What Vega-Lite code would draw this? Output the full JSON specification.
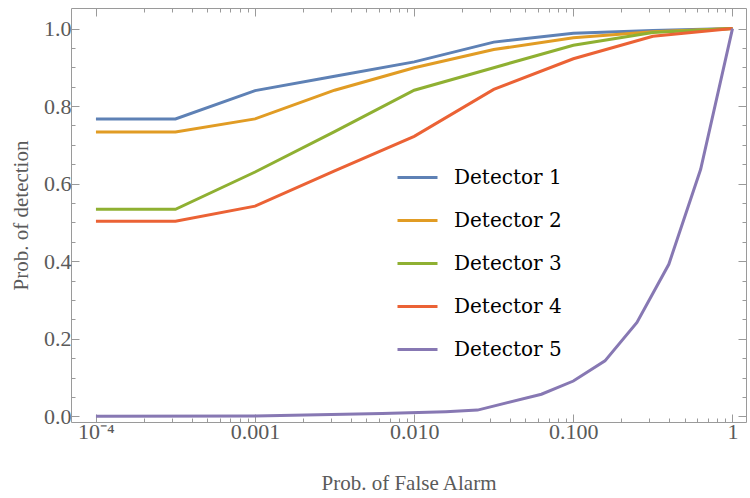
{
  "$schema": "https://vega.github.io/schema/vega-lite/v6.json",
  "autosize": "none",
  "padding": {"left": 71, "top": 8, "right": 4, "bottom": 76},
  "width": 675,
  "height": 414,
  "background": "white",
  "config": {
    "font": "Liberation Serif",
    "view": {"stroke": "#9a9a9a", "strokeWidth": 1},
    "axis": {
      "domain": false,
      "grid": false,
      "tickColor": "#9a9a9a",
      "tickWidth": 1,
      "labelFont": "Liberation Serif",
      "labelFontSize": 22,
      "labelColor": "#5a5a5a",
      "titleFont": "Liberation Serif",
      "titleFontSize": 21,
      "titleFontWeight": "normal",
      "titleColor": "#5a5a5a"
    },
    "legend": {
      "labelFont": "DejaVu Serif",
      "labelFontSize": 20,
      "labelFontWeight": "normal",
      "labelColor": "black",
      "labelLimit": 300
    }
  },
  "data": {
    "values": [
      {"detector": "Detector 1", "pfa": 0.0001, "pd": 0.767},
      {"detector": "Detector 1", "pfa": 0.000316, "pd": 0.767},
      {"detector": "Detector 1", "pfa": 0.001, "pd": 0.840},
      {"detector": "Detector 1", "pfa": 0.00316, "pd": 0.877},
      {"detector": "Detector 1", "pfa": 0.01, "pd": 0.914},
      {"detector": "Detector 1", "pfa": 0.0316, "pd": 0.965},
      {"detector": "Detector 1", "pfa": 0.1, "pd": 0.988},
      {"detector": "Detector 1", "pfa": 0.316, "pd": 0.995},
      {"detector": "Detector 1", "pfa": 1, "pd": 1.0},
      {"detector": "Detector 2", "pfa": 0.0001, "pd": 0.733},
      {"detector": "Detector 2", "pfa": 0.000316, "pd": 0.733},
      {"detector": "Detector 2", "pfa": 0.001, "pd": 0.767},
      {"detector": "Detector 2", "pfa": 0.00316, "pd": 0.841},
      {"detector": "Detector 2", "pfa": 0.01, "pd": 0.899},
      {"detector": "Detector 2", "pfa": 0.0316, "pd": 0.946},
      {"detector": "Detector 2", "pfa": 0.1, "pd": 0.976},
      {"detector": "Detector 2", "pfa": 0.316, "pd": 0.992},
      {"detector": "Detector 2", "pfa": 1, "pd": 1.0},
      {"detector": "Detector 3", "pfa": 0.0001, "pd": 0.534},
      {"detector": "Detector 3", "pfa": 0.000316, "pd": 0.534},
      {"detector": "Detector 3", "pfa": 0.001, "pd": 0.630},
      {"detector": "Detector 3", "pfa": 0.00316, "pd": 0.734},
      {"detector": "Detector 3", "pfa": 0.01, "pd": 0.841},
      {"detector": "Detector 3", "pfa": 0.0316, "pd": 0.899},
      {"detector": "Detector 3", "pfa": 0.1, "pd": 0.957},
      {"detector": "Detector 3", "pfa": 0.316, "pd": 0.990},
      {"detector": "Detector 3", "pfa": 1, "pd": 1.0},
      {"detector": "Detector 4", "pfa": 0.0001, "pd": 0.503},
      {"detector": "Detector 4", "pfa": 0.000316, "pd": 0.503},
      {"detector": "Detector 4", "pfa": 0.001, "pd": 0.542},
      {"detector": "Detector 4", "pfa": 0.00316, "pd": 0.633},
      {"detector": "Detector 4", "pfa": 0.01, "pd": 0.722},
      {"detector": "Detector 4", "pfa": 0.0316, "pd": 0.843},
      {"detector": "Detector 4", "pfa": 0.1, "pd": 0.922},
      {"detector": "Detector 4", "pfa": 0.316, "pd": 0.980},
      {"detector": "Detector 4", "pfa": 1, "pd": 1.0},
      {"detector": "Detector 5", "pfa": 0.0001, "pd": 0.0001},
      {"detector": "Detector 5", "pfa": 0.001, "pd": 0.001},
      {"detector": "Detector 5", "pfa": 0.0063, "pd": 0.007},
      {"detector": "Detector 5", "pfa": 0.0158, "pd": 0.012},
      {"detector": "Detector 5", "pfa": 0.025, "pd": 0.016},
      {"detector": "Detector 5", "pfa": 0.063, "pd": 0.057},
      {"detector": "Detector 5", "pfa": 0.1, "pd": 0.091},
      {"detector": "Detector 5", "pfa": 0.158, "pd": 0.143},
      {"detector": "Detector 5", "pfa": 0.251, "pd": 0.242},
      {"detector": "Detector 5", "pfa": 0.398, "pd": 0.392},
      {"detector": "Detector 5", "pfa": 0.631, "pd": 0.637},
      {"detector": "Detector 5", "pfa": 1, "pd": 1.0}
    ]
  },
  "resolve": {"axis": {"x": "independent", "y": "independent"}},
  "layer": [
    {
      "mark": {"type": "line", "strokeWidth": 3, "clip": true},
      "encoding": {
        "x": {
          "field": "pfa",
          "type": "quantitative",
          "scale": {"type": "log", "domain": [0.0000697, 1.216], "nice": false},
          "axis": {
            "orient": "bottom",
            "title": "Prob. of False Alarm",
            "titlePadding": 26,
            "values": [0.0001, 0.0002, 0.0003, 0.0004, 0.0005, 0.0006, 0.0007, 0.0008, 0.0009, 0.001, 0.002, 0.003, 0.004, 0.005, 0.006, 0.007, 0.008, 0.009, 0.01, 0.02, 0.03, 0.04, 0.05, 0.06, 0.07, 0.08, 0.09, 0.1, 0.2, 0.3, 0.4, 0.5, 0.6, 0.7, 0.8, 0.9, 1],
            "labelExpr": "abs(log(datum.value)/LN10 - round(log(datum.value)/LN10)) > 0.001 ? '' : datum.value < 0.0005 ? '10⁻⁴' : datum.value > 0.5 ? '1' : format(datum.value, '.3f')",
            "tickSize": {"condition": {"test": "abs(log(datum.value)/LN10 - round(log(datum.value)/LN10)) < 0.001", "value": -8}, "value": -4},
            "labelPadding": 7,
            "labelOverlap": false,
            "labelFlush": false
          }
        },
        "y": {
          "field": "pd",
          "type": "quantitative",
          "scale": {"domain": [-0.0147, 1.053], "nice": false, "zero": false},
          "axis": {
            "orient": "left",
            "title": "Prob. of detection",
            "titlePadding": 12,
            "values": [0, 0.05, 0.1, 0.15, 0.2, 0.25, 0.3, 0.35, 0.4, 0.45, 0.5, 0.55, 0.6, 0.65, 0.7, 0.75, 0.8, 0.85, 0.9, 0.95, 1],
            "labelExpr": "abs(datum.value*5 - round(datum.value*5)) > 0.001 ? '' : format(datum.value, '.1f')",
            "tickSize": {"condition": {"test": "abs(datum.value*5 - round(datum.value*5)) < 0.001", "value": -8}, "value": -4},
            "labelPadding": 8,
            "labelOverlap": false,
            "labelFlush": false
          }
        },
        "color": {
          "field": "detector",
          "type": "nominal",
          "scale": {
            "domain": ["Detector 1", "Detector 2", "Detector 3", "Detector 4", "Detector 5"],
            "range": ["#5e81b5", "#e19c24", "#8fb032", "#eb6235", "#8778b3"]
          },
          "legend": {
            "title": null,
            "orient": "none",
            "legendX": 325,
            "legendY": 148,
            "symbolType": "stroke",
            "symbolSize": 1600,
            "symbolStrokeWidth": 3,
            "labelFont": "DejaVu Serif",
            "labelFontSize": 20,
            "labelColor": "black",
            "labelOffset": 15,
            "rowPadding": 11
          }
        }
      }
    },
    {
      "mark": {"type": "line", "strokeOpacity": 0},
      "encoding": {
        "x": {
          "field": "pfa",
          "type": "quantitative",
          "axis": {
            "orient": "top",
            "title": null,
            "labels": false,
            "values": [0.0001, 0.0002, 0.0003, 0.0004, 0.0005, 0.0006, 0.0007, 0.0008, 0.0009, 0.001, 0.002, 0.003, 0.004, 0.005, 0.006, 0.007, 0.008, 0.009, 0.01, 0.02, 0.03, 0.04, 0.05, 0.06, 0.07, 0.08, 0.09, 0.1, 0.2, 0.3, 0.4, 0.5, 0.6, 0.7, 0.8, 0.9, 1],
            "tickSize": {"condition": {"test": "abs(log(datum.value)/LN10 - round(log(datum.value)/LN10)) < 0.001", "value": -8}, "value": -4}
          }
        },
        "y": {
          "field": "pd",
          "type": "quantitative",
          "axis": {
            "orient": "right",
            "title": null,
            "labels": false,
            "values": [0, 0.05, 0.1, 0.15, 0.2, 0.25, 0.3, 0.35, 0.4, 0.45, 0.5, 0.55, 0.6, 0.65, 0.7, 0.75, 0.8, 0.85, 0.9, 0.95, 1],
            "tickSize": {"condition": {"test": "abs(datum.value*5 - round(datum.value*5)) < 0.001", "value": -8}, "value": -4}
          }
        },
        "detail": {"field": "detector", "type": "nominal"}
      }
    }
  ]
}
